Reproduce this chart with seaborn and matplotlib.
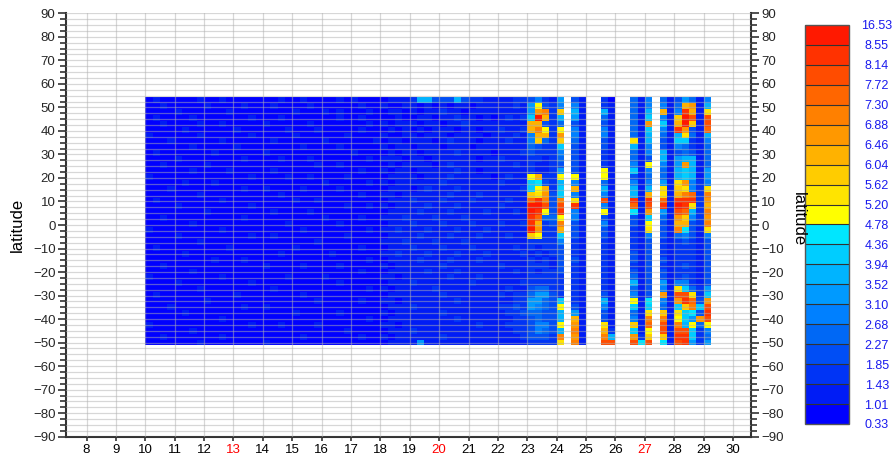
import numpy as np
import pandas as pd
import matplotlib
matplotlib.use("Agg")
import matplotlib.pyplot as plt
from matplotlib.colors import ListedColormap, BoundaryNorm
from matplotlib.ticker import MultipleLocator, FixedLocator
import seaborn as sns

# ---------------- data ----------------
bounds = [0.33, 1.01, 1.43, 1.85, 2.27, 2.68, 3.10, 3.52, 3.94, 4.36, 4.78,
          5.20, 5.62, 6.04, 6.46, 6.88, 7.30, 7.72, 8.14, 8.55, 16.53]
bound_labels = ["0.33", "1.01", "1.43", "1.85", "2.27", "2.68", "3.10", "3.52",
                "3.94", "4.36", "4.78", "5.20", "5.62", "6.04", "6.46", "6.88",
                "7.30", "7.72", "8.14", "8.55", "16.53"]
level_colors = ["#0000ff", "#001cf5", "#0034f5", "#004ef5", "#0068f5",
                "#0080ff", "#009aff", "#00b4ff", "#00cdff", "#00e6ff",
                "#ffff00", "#ffe400", "#ffcc00", "#ffb200", "#ff9800",
                "#ff8000", "#ff6600", "#ff4c00", "#ff3200", "#ff1900"]

day_first = 10.0      # first 6-hourly column starts at day 10
day_step = 0.25
lat_north_edge = 54.4
lat_south_edge = -51.2

# level codes: 0-9 -> 0..9, a-j -> 10..19, '.' = missing
# west part: days 10.00 .. 22.75 (52 columns), rows from north to south
west_rows = [
    "0100000100100000" "0010010000101000" "0111277333732211" "1122",
    "0010000010000100" "0100001000000100" "1001101010110111" "1121",
    "0000100000010000" "0000100010100010" "0110101121101111" "1111",
    "0100001000000010" "0010000000100100" "0010011011211010" "1212",
    "0010000100100000" "1000001000000010" "1011101101121111" "1111",
    "0000010000001000" "0001000100000100" "0101010111011011" "2112",
    "1000000100000010" "0000100000010000" "1001101110111101" "1121",
    "0001000000100000" "0100000010000001" "0110111012111011" "1211",
    "0000001000001000" "0000010000100000" "1011011101110111" "1111",
    "0100000001000000" "1000000000001000" "0101101111211110" "1112",
    "0000100000000100" "0010001000000010" "1110110111111011" "2111",
    "0010000010000000" "0000000100100000" "0101111012111111" "1121",
    "0000001000010000" "0100000000000100" "1011011111211011" "1111",
    "1000000000000010" "0001001000010000" "0111101112111110" "1211",
    "0000010001000000" "0000000010000010" "1011111121111111" "2111",
    "0001000000000100" "1000010000100000" "0111012111211111" "1112",
    "0000000100000000" "0010000000000100" "1101111112111211" "1111",
    "0100000000100000" "0000100100000000" "0111211121112111" "1211",
    "0000100000000010" "0000000000010010" "1011112111211111" "2111",
    "0000000010000000" "0100001000000000" "0111121112111121" "1121",
    "0010000000000100" "0000000010000100" "1112111211121111" "1111",
    "0000001000000000" "0001000000100000" "0111211121112111" "2112",
    "1000000000100000" "0000010000000010" "1121112111211121" "1111",
    "0000100000000010" "0100000000010000" "0111121112111211" "1211",
    "0000000100000000" "0000000100000000" "1112111211121111" "1111",
    "0100000000010000" "0000100000000100" "0111211121112111" "1121",
    "0000010000000000" "0010000001000000" "1121112111211121" "1112",
    "0000000001000100" "0000000000000010" "0111121112111211" "1111",
    "0010000000000000" "1000010000100000" "1011111121111111" "2111",
    "0000001000000000" "0000000000000100" "0111112111211111" "1121",
    "1000000000100000" "0001000010000000" "1101111112111211" "1111",
    "0000100000000010" "0000000000100000" "0111211111112111" "1112",
    "0000000100000000" "0100000000000010" "1011111211111111" "1211",
    "0100000000001000" "0000010000000000" "0111111121111111" "2122",
    "0000000010000000" "0000000100000100" "1101111111211111" "1122",
    "0001000000000100" "1000000000000000" "0111211111111111" "2232",
    "0000010000000000" "0000100000100000" "1011111121111111" "1223",
    "0000000000100000" "0000000000000010" "0111111111211111" "1122",
    "1000000000000010" "0010000100000000" "1101111111111211" "1222",
    "0000001000000000" "0000000000010000" "0111211111111111" "1122",
    "0010000000100000" "0000010000000100" "1011111121111111" "1112",
    "0000000100000000" "1000000000000000" "0111161111111111" "1111",
]
# east part: days 23.00 .. 29.00 (25 columns, gaps marked '.')
east_rows = [
    "35216.31..20..415.4136415",
    "6a325.51..21..415.514de17",
    "6ef2c.71..71..417.d15id1b",
    "8jd27.61..41..418.51cjh1h",
    "dd324.31..31..41e.81djc1h",
    "dfa2a.51..51..418.51ie31g",
    "5dd2e.51..51..417.417b417",
    "5c42c.41..31..b17.3188215",
    "43228.31..31..715.3154214",
    "32225.31..21..415.7134314",
    "22124.31..21..413.7167714",
    "21123.31..21..51a.516e714",
    "21126.31..a1..815.4178716",
    "ad22a.a1..a1..314.4178716",
    "89327.51..41..515.61be525",
    "8ad28.d1..71..717.b1cb52b",
    "cbe38.51..51..71d.b1dfg2f",
    "gif3f.b1..h1..i1i.g1iii2e",
    "jjh3h.i1..51..g1h.i1jib2d",
    "jia3i.51..a1..91e.61hg72f",
    "ig44a.51..31..318.41ec52e",
    "id23f.31..51..31a.31dd32f",
    "je22d.31..31..21b.31f931b",
    "ca228.31..31..215.3145315",
    "22225.21..21..213.2123213",
    "21223.21..21..213.2122213",
    "12123.21..21..313.2122213",
    "21213.31..21..313.3122213",
    "22213.21..21..213.2123213",
    "21223.21..21..313.3122213",
    "22222.21..21..413.3123213",
    "22222.21..21..713.6155213",
    "34422.21..21..413.51b8426",
    "46632.21..31..513.e1hhb28",
    "66438.21..71..a19.51eig3e",
    "6543a.31..51..818.418cf8h",
    "44337.61..31..41b.c1b893i",
    "34337.d1..31..51f.f1a86eh",
    "3553a.e1..b1..c1g.h1f7a4a",
    "35437.f1..d2..81a.h1hh825",
    "3332f.e1..f7..e2c.c1ii824",
    "2222b.f1..hh..h9h.91hi626",
]

x_tick_days = list(range(8, 31))
red_days = [13, 20, 27]

# ---------------- build table ----------------
codes = "0123456789abcdefghij"
mids = [(bounds[k] + bounds[k + 1]) / 2 for k in range(20)]
rows = [w + e for w, e in zip(west_rows, east_rows)]
ncol = len(rows[0])
assert all(len(r) == ncol for r in rows), [len(r) for r in rows]
vals = np.array([[np.nan if ch == "." else mids[codes.index(ch)] for ch in r]
                 for r in rows])
nrow = vals.shape[0]
col_days = [day_first + day_step * j for j in range(ncol)]
df = pd.DataFrame(vals, columns=col_days)

# ---------------- figure ----------------
sns.set_theme(style="white")
plt.rcParams["font.family"] = ["Liberation Sans", "DejaVu Sans"]

fig = plt.figure(figsize=(8.94, 4.59), dpi=100)
ax = fig.add_axes([0.0738, 0.0486, 0.7662, 0.9224])
ax.set_xlim(7.30, 30.61)
ax.set_ylim(-90, 90)
ax.set_facecolor("white")

cmap = ListedColormap(level_colors)
norm = BoundaryNorm(bounds, cmap.N)

x0 = day_first
x1 = day_first + day_step * ncol
hax = ax.inset_axes([x0, lat_south_edge, x1 - x0, lat_north_edge - lat_south_edge],
                    transform=ax.transData)
hax.set_zorder(1)
cax = fig.add_axes([0.9004, 0.0763, 0.0492, 0.8693])

sns.heatmap(df, ax=hax, cmap=cmap, norm=norm, cbar_ax=cax,
            xticklabels=False, yticklabels=False,
            cbar_kws={"drawedges": True, "ticks": bounds})
hax.set_axis_off()
hax.patch.set_visible(False)

# grid on top of the data
ax.set_axisbelow(False)
ax.xaxis.set_major_locator(FixedLocator(x_tick_days))
ax.yaxis.set_major_locator(MultipleLocator(10))
ax.yaxis.set_minor_locator(MultipleLocator(2.5))
ax.grid(True, which="major", axis="x", color="#b0b0b0", alpha=0.5, lw=0.9)
ax.grid(True, which="both", axis="y", color="#b0b0b0", alpha=0.5, lw=0.9)

ax.set_xticklabels([str(d) for d in x_tick_days])
ax.tick_params(axis="x", which="major", bottom=True, length=3, width=1.2,
               color="#333333", labelsize=9.5, pad=2)
for lab, d in zip(ax.get_xticklabels(), x_tick_days):
    lab.set_color("red" if d in red_days else "black")
ax.tick_params(axis="y", which="both", left=True, right=True,
               labelleft=True, labelright=True, direction="out",
               color="#333333", width=1.2)
ax.tick_params(axis="y", which="major", length=6, labelsize=9.5, pad=1.5)
ax.tick_params(axis="y", which="minor", length=4)

for side in ["left", "right", "bottom"]:
    ax.spines[side].set_visible(True)
    ax.spines[side].set_color("#333333")
    ax.spines[side].set_linewidth(1.5)
ax.spines["top"].set_visible(False)

ax.set_xlabel("")
ax.set_ylabel("")
fig.text(0.019, 0.51, "latitude", rotation=90, ha="center", va="center",
         fontsize=12, color="black")
fig.text(0.893, 0.523, "latitude", rotation=270, ha="center", va="center",
         fontsize=12, color="black")

# colorbar styling
cbar = hax.collections[0].colorbar
cbar.set_ticks(bounds)
cbar.set_ticklabels(bound_labels)
cbar.outline.set_edgecolor("#555555")
cbar.outline.set_linewidth(1.0)
cbar.dividers.set_color("#333333")
cbar.dividers.set_linewidth(0.8)
cax.tick_params(length=0, labelsize=9, labelcolor="#1a1aee", pad=20)
for lab in cax.get_yticklabels():
    lab.set_ha("center")

fig.savefig("out.png", dpi=100)
